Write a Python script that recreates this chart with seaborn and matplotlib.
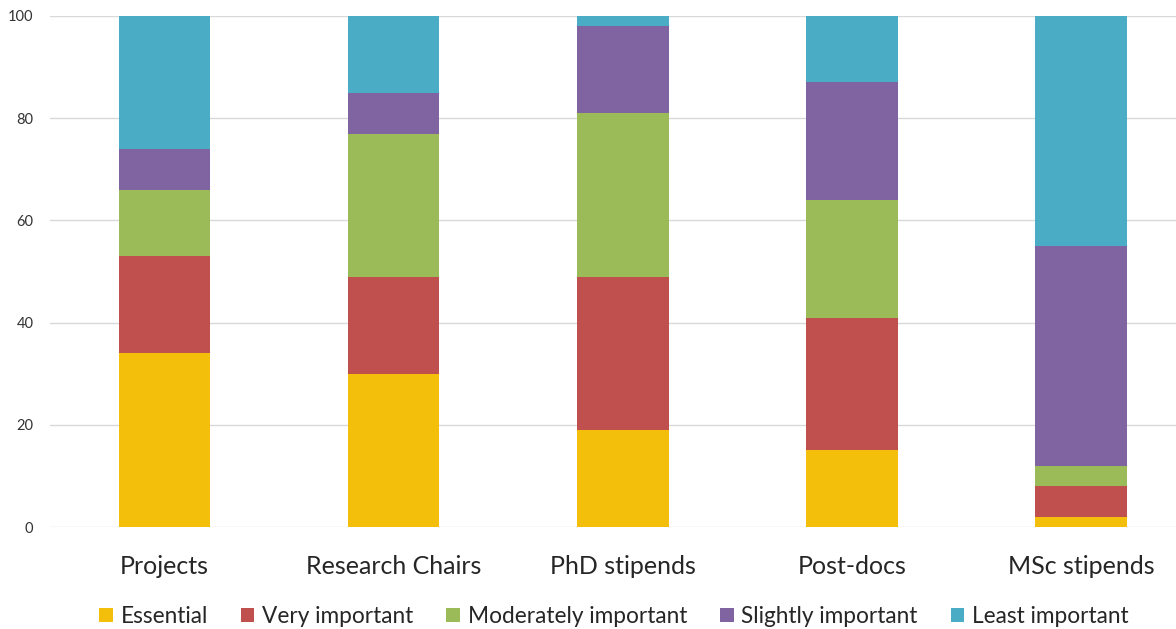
import matplotlib
matplotlib.use("Agg")
import matplotlib.pyplot as plt
import seaborn as sns
import numpy as np
from matplotlib.patches import Patch

# Funding instruments and rated importance (% of respondents)
categories = ["Projects", "Research Chairs", "PhD stipends", "Post-docs", "MSc stipends"]
levels = ["Essential", "Very important", "Moderately important", "Slightly important", "Least important"]
essential = [34, 30, 19, 15, 2]
very_important = [19, 19, 30, 26, 6]
moderately_important = [13, 28, 32, 23, 4]
slightly_important = [8, 8, 17, 23, 43]
least_important = [26, 15, 2, 13, 45]
y_ticks = [0, 20, 40, 60, 80, 100]

colors = ["#F3BF0B", "#C0504D", "#9BBB59", "#8064A2", "#4BACC6"]

sns.set_theme(style="white")
plt.rcParams["font.family"] = ["Lato", "DejaVu Sans"]

fig = plt.figure(figsize=(11.76, 6.29), dpi=100)
ax = fig.add_axes([0.0425, 0.162, 0.974, 0.8126])

series = [essential, very_important, moderately_important, slightly_important, least_important]
cum = np.cumsum(np.array(series), axis=0)

# Stack by drawing cumulative totals from the top layer down
for i in range(len(levels) - 1, -1, -1):
    sns.barplot(x=categories, y=cum[i], color=colors[i], width=0.4,
                saturation=1, ax=ax, zorder=2, linewidth=0)

ax.set_ylim(0, 100)
ax.set_xlim(-0.5, 4.5)
ax.set_yticks(y_ticks)
ax.set_yticklabels([str(t) for t in y_ticks], fontsize=10.5, color="#333333")
ax.yaxis.grid(True, color="#D9D9D9", linewidth=1, zorder=0)
ax.set_axisbelow(True)
ax.tick_params(axis="y", length=0, pad=12)
ax.tick_params(axis="x", length=0, pad=20, labelsize=18, labelcolor="#262626")
for s in ax.spines.values():
    s.set_visible(False)
ax.set_xlabel("")
ax.set_ylabel("")

handles = [Patch(facecolor=c, edgecolor="none") for c in colors]
fig.legend(handles, levels, loc="center", bbox_to_anchor=(0.522, 0.02), ncol=5,
           frameon=False, fontsize=16.3, handlelength=0.6, handleheight=0.6,
           handletextpad=0.35, columnspacing=1.45, labelcolor="#262626")

fig.savefig("out.png", dpi=100)
